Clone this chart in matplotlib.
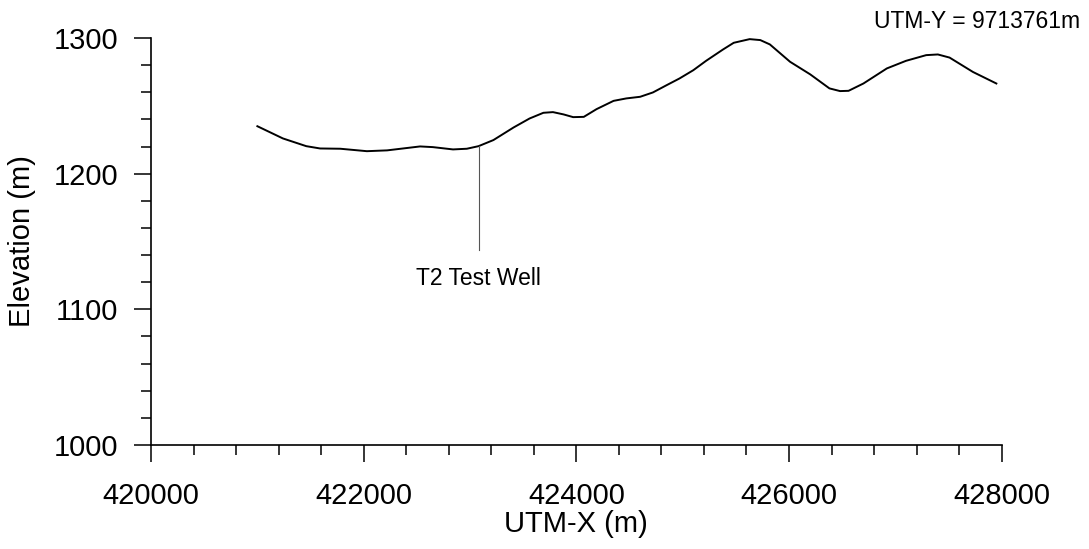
import matplotlib
matplotlib.use("Agg")
import matplotlib.pyplot as plt
from matplotlib.ticker import MultipleLocator

plt.rcParams['font.family'] = ['Liberation Sans', 'DejaVu Sans']

# ground profile along UTM-Y = 9713761m
utm_x = [421000, 421240, 421460, 421590, 421780, 422030, 422220, 422370,
         422530, 422650, 422840, 422970, 423080, 423220, 423410, 423560,
         423690, 423780, 423880, 423970, 424070, 424190, 424350, 424470,
         424600, 424720, 424850, 424970, 425100, 425220, 425380, 425480,
         425630, 425730, 425820, 426010, 426200, 426380, 426480, 426560,
         426700, 426920, 427100, 427290, 427400, 427510, 427730, 427950]
elevation = [1235.0, 1226.0, 1220.3, 1218.6, 1218.4, 1216.6, 1217.2, 1218.6,
             1220.1, 1219.6, 1217.9, 1218.4, 1220.3, 1224.8, 1234.1, 1240.7,
             1244.9, 1245.4, 1243.7, 1241.7, 1241.9, 1247.6, 1253.7, 1255.5,
             1256.7, 1259.9, 1265.3, 1270.2, 1276.3, 1283.2, 1291.6, 1296.5,
             1299.2, 1298.5, 1295.3, 1282.5, 1273.2, 1262.9, 1260.9, 1261.1,
             1266.5, 1277.6, 1283.2, 1287.4, 1287.9, 1285.6, 1275.0, 1266.5]

well_x = 423080
well_top = 1220.3
well_bottom = 1144
well_label = "T2 Test Well"
well_label_y = 1123

fig = plt.figure(figsize=(10.89, 5.49), dpi=100)
ax = fig.add_axes([0.1387, 0.1894, 0.7811, 0.7413])

ax.plot(utm_x, elevation, color='black', lw=1.4, solid_joinstyle='round')
ax.plot([well_x, well_x], [well_bottom, well_top], color='#555555', lw=0.8)
ax.text(well_x, well_label_y, well_label, ha='center', va='center', fontsize=16.5)

ax.set_xlim(420000, 428000)
ax.set_ylim(1000, 1300)
ax.xaxis.set_major_locator(MultipleLocator(2000))
ax.xaxis.set_minor_locator(MultipleLocator(400))
ax.yaxis.set_major_locator(MultipleLocator(100))
ax.yaxis.set_minor_locator(MultipleLocator(20))

for s in ['top', 'right']:
    ax.spines[s].set_visible(False)
for s in ['left', 'bottom']:
    ax.spines[s].set_linewidth(1.2)

ax.tick_params(which='major', length=12.5, width=1.1, labelsize=21)
ax.tick_params(axis='x', which='major', pad=14)
ax.tick_params(axis='y', which='major', pad=11)
ax.tick_params(which='minor', length=7.5, width=1.1)

ax.set_xlabel("UTM-X (m)", fontsize=21, labelpad=0)
ax.set_ylabel("Elevation (m)", fontsize=21, labelpad=13)

fig.text(0.9917, 0.9617, "UTM-Y = 9713761m", ha='right', va='center', fontsize=16.5)

fig.savefig("out.png", dpi=100)
